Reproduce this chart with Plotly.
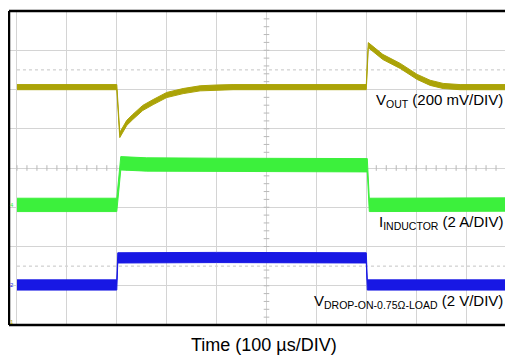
"Scope capture: load transient on Vout, inductor current and load drop voltage"

import numpy as np
import plotly.graph_objects as go

# time axis in divisions (100 us/DIV), levels in screen divisions
vout_t = [0.0, 2.0, 2.06, 2.2, 2.32, 2.52, 2.73, 3.0, 3.33, 3.67, 4.0, 4.33,
          7.0, 7.04, 7.33, 7.68, 8.02, 8.28, 8.54, 8.88, 9.94]
vout_v = [6.06, 6.06, 4.84, 5.15, 5.30, 5.53, 5.68, 5.86, 5.96, 6.03, 6.05, 6.06,
          6.06, 7.13, 6.83, 6.60, 6.32, 6.17, 6.09, 6.06, 6.06]

ind_t = [0.0, 2.0, 2.08, 2.6, 4.0, 7.02, 7.06, 9.94]
ind_v = [3.06, 3.06, 4.12, 4.09, 4.08, 4.07, 3.06, 3.07]

drop_t = [0.0, 2.0, 2.02, 4.0, 7.0, 7.02, 9.94]
drop_v = [1.02, 1.02, 1.71, 1.72, 1.71, 1.02, 1.02]

labels = ["V<sub>OUT</sub> (200 mV/DIV)",
          "I<sub>INDUCTOR</sub> (2 A/DIV)",
          "V<sub>DROP-ON-0.75Ω-LOAD</sub> (2 V/DIV)"]
label_y = [5.73, 2.60, 0.59]

FONT = "Arial, Liberation Sans, sans-serif"
GRID = "#D4D4D4"


def band(fig, t, v, half, color):
    "Draw a noisy scope trace as a filled band round its centre line."
    t = list(t)
    upper = [y + half for y in v]
    lower = [y - half for y in v]
    fig.add_trace(go.Scatter(
        x=t + t[::-1], y=upper + lower[::-1], fill="toself", fillcolor=color,
        mode="lines", line={"color": color, "width": 1}, hoverinfo="skip",
        showlegend=False))


fig = go.Figure()

# graticule extras: dotted reference lines and centre-axis minor ticks
for yd in (6.5, 1.5):
    fig.add_shape(type="line", x0=0, x1=10, y0=yd, y1=yd, layer="below",
                  line={"color": "#C4C4C4", "width": 1, "dash": "dot"})
minor = np.arange(0, 8.01, 0.2)
fig.add_trace(go.Scatter(
    x=[5] * len(minor), y=minor, mode="markers", hoverinfo="skip", showlegend=False,
    marker={"symbol": "line-ew-open", "size": 4, "color": "#B8B8B8",
            "line": {"color": "#B8B8B8", "width": 1}}))
minor_x = np.arange(0, 10.01, 0.2)
fig.add_trace(go.Scatter(
    x=minor_x, y=[4] * len(minor_x), mode="markers", hoverinfo="skip", showlegend=False,
    marker={"symbol": "line-ns-open", "size": 4, "color": "#B8B8B8",
            "line": {"color": "#B8B8B8", "width": 1}}))

band(fig, vout_t, vout_v, 0.065, "#ABA307")
band(fig, ind_t, ind_v, 0.17, "#3CF03C")
band(fig, drop_t, drop_v, 0.13, "#1818E4")

# frame (left, top, bottom)
for x0, y0, x1, y1 in ((0, 0, 0, 1), (0, 1, 1, 1), (0, 0, 1, 0)):
    fig.add_shape(type="line", xref="paper", yref="paper", x0=x0, y0=y0, x1=x1, y1=y1,
                  line={"color": "black", "width": 2.5}, layer="above")

for text, yv in zip(labels, label_y):
    fig.add_annotation(text=text, xref="paper", x=0.985, xanchor="right",
                       yref="y", y=yv, yanchor="middle", showarrow=False,
                       font={"family": FONT, "size": 15, "color": "black"})

fig.add_annotation(text="Time (100 µs/DIV)", xref="paper", x=0.505, xanchor="center",
                   yref="paper", y=-0.064, yanchor="middle", showarrow=False,
                   font={"family": FONT, "size": 18, "color": "black"})

# tiny channel markers at the left edge
for txt, yv, col in (("4", 3.06, "#3CF03C"), ("2", 1.02, "#1818E4"), ("1", 0.08, "#ABA307")):
    fig.add_annotation(text=txt, x=-0.09, y=yv, showarrow=False,
                       font={"family": FONT, "size": 6, "color": col})

# page body keeps an 8 px margin, so the figure is sized to fill the rest
fig.update_layout(
    width=505, height=350,
    margin={"l": 1, "r": 0, "t": 3, "b": 33},
    plot_bgcolor="white", paper_bgcolor="white",
    xaxis={"range": [-0.16, 9.94], "tickvals": list(range(11)), "showticklabels": False,
           "ticks": "", "showgrid": True, "gridcolor": GRID, "gridwidth": 1,
           "zeroline": False, "showline": False, "fixedrange": True},
    yaxis={"range": [0, 8], "tickvals": list(range(9)), "showticklabels": False,
           "ticks": "", "showgrid": True, "gridcolor": GRID, "gridwidth": 1,
           "zeroline": False, "showline": False, "fixedrange": True},
    showlegend=False,
)

fig.write_html("out.html")
